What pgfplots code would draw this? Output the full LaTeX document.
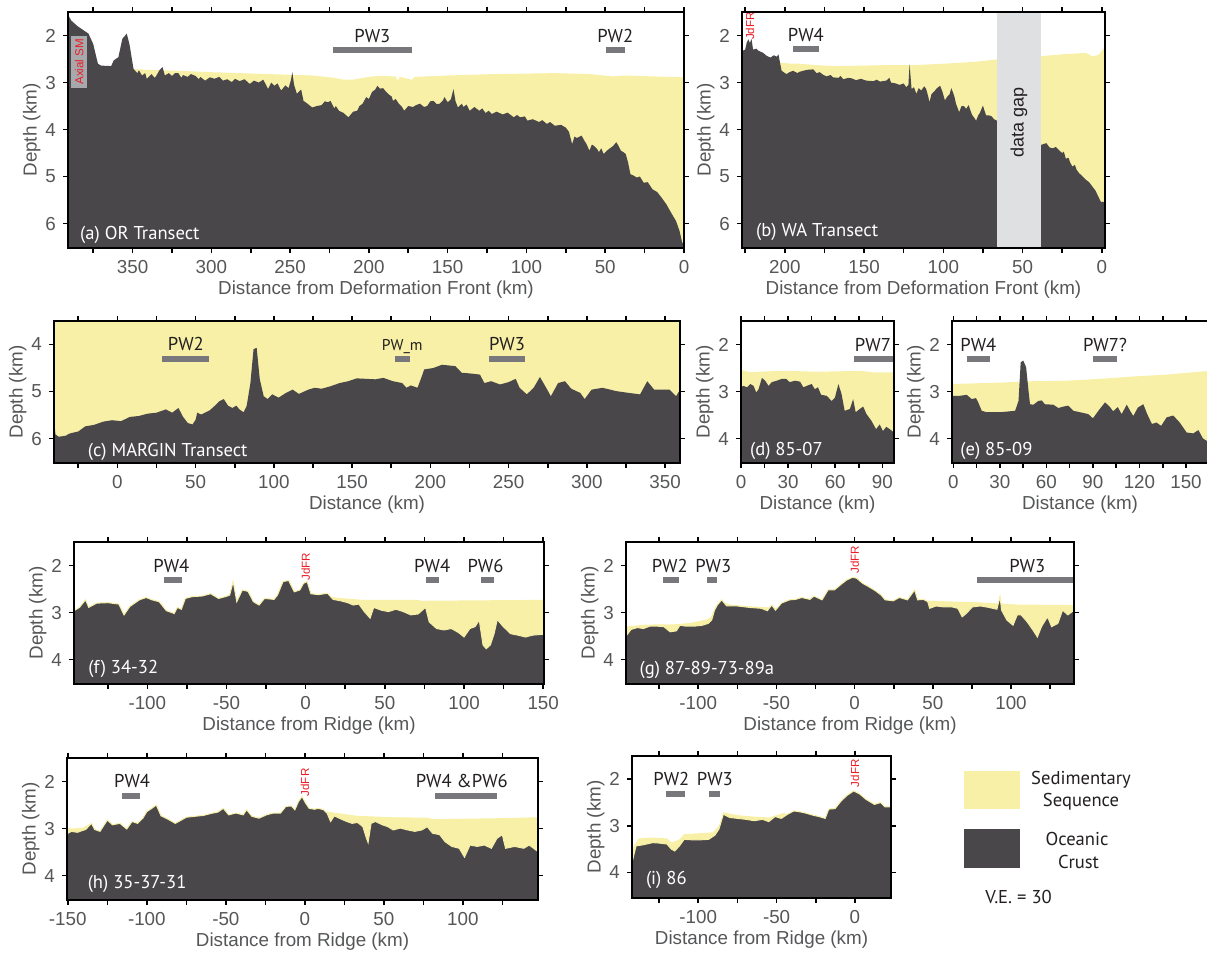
\documentclass[border=0pt]{standalone}
\usepackage{fontspec}
\setmainfont{Liberation Sans}
\newfontfamily\pwfont{PT Sans}
\usepackage{pgfplots}
\pgfplotsset{compat=1.18}
\definecolor{sed}{RGB}{247,240,166}
\definecolor{crust}{RGB}{74,71,75}
\definecolor{gapc}{RGB}{223,224,226}
\definecolor{pwgray}{RGB}{120,119,123}
\definecolor{tickgray}{RGB}{85,86,88}
\definecolor{lblred}{RGB}{237,28,36}
\definecolor{txtdark}{RGB}{35,31,32}
\definecolor{smgray}{RGB}{167,169,172}
\pgfplotsset{
  panel/.style={
    scale only axis, anchor=north west, y dir=reverse,
    axis on top,
    axis line style={line width=0.8pt, black},
    tick align=outside, major tick length=2.6pt, minor tick length=2.6pt,
    every tick/.style={black, line width=0.8pt},
    every minor tick/.style={black, line width=0.8pt},
    xtick pos=both, ytick pos=both,
    tick label style={font=\fontsize{9.4}{11}\selectfont, text=tickgray},
    /pgf/number format/assume math mode=true,
    label style={font=\fontsize{9.4}{11}\selectfont, text=tickgray},
    ylabel={Depth (km)},
    ylabel shift=-4.5pt,
    xlabel shift=-3pt,
    ytick={1,2,...,6},
  },
  sedf/.style={fill=sed, draw=none},
  crustf/.style={fill=crust, draw=none},
  crusto/.style={fill=crust, draw=sed, line width=0.5pt},
  pwbar/.style={draw=pwgray, line width=3pt},
}
\tikzset{
  pwl/.style={font=\pwfont\fontsize{9.3}{10}\selectfont, text=txtdark, anchor=base, inner sep=0pt},
  pwls/.style={font=\pwfont\fontsize{7.8}{9}\selectfont, text=txtdark, anchor=base, inner sep=0pt},
  plab/.style={font=\pwfont\fontsize{9.3}{10}\selectfont, text=white, anchor=base west, inner sep=0pt},
  jdfr/.style={font=\fontsize{5.8}{6}\selectfont, text=lblred, rotate=90, inner sep=0pt},
}
\begin{document}
\begin{tikzpicture}
\useasboundingbox (0,0) rectangle (603.5pt,-477.5pt);

% ---------------- (a) OR Transect ----------------
\begin{axis}[panel, at={(34pt,-6pt)}, width=308pt, height=118pt,
  xmin=0, xmax=391, x dir=reverse, ymin=1.5, ymax=6.52,
  xtick={0,50,...,350}, minor xtick={25,75,...,375},
  xlabel={Distance from Deformation Front (km)}]
\addplot[sedf] coordinates {(350,7)(350,2.71)(340,2.73)(321,2.75)(300,2.78)(264,2.82)(236,2.85)(222,2.9)(216,2.94)(210,2.94)(207,2.92)(200,2.88)(194,2.86)(183,2.87)(181.6,2.97)(180.5,2.88)(178.7,2.89)(174,2.93)(173,2.95)(171,2.88)(150,2.85)(120,2.82)(82,2.80)(60,2.82)(51,2.85)(45,2.87)(37,2.85)(20,2.87)(0,2.89)(0,7)} --cycle;
\addplot[crustf] coordinates {(391,7)(391,1.55)(389,1.68)(385,1.8)(378,1.96)(375,2.18)(372,2.6)(370,2.64)(363.6,2.65)(362,2.53)(359,2.46)(356.5,2.07)(353.7,1.96)(352,2.18)(349.4,2.71)(347,2.8)(346,2.74)(344,2.85)(342,2.8)(341,2.92)(338,2.82)(336,2.9)(335,2.86)(333,2.74)(331,2.67)(329.5,2.85)(327,2.8)(325,2.86)(323,2.8)(321,2.80)(319,2.9)(318,2.84)(315,2.88)(313,2.82)(310,2.86)(308,2.93)(307,2.88)(304,2.96)(301,2.89)(298,2.92)(295,2.88)(292.6,2.96)(290,2.93)(287,2.99)(285,2.92)(282,2.97)(279,2.93)(275.6,3.03)(273,2.96)(270,3.0)(267,2.94)(264,3.14)(262,3.0)(260,3.07)(258,3.02)(255.7,3.17)(253,3.06)(251,3.12)(249.5,2.95)(248.6,2.78)(247.5,3.05)(245.7,3.24)(243,3.15)(241.5,3.39)(239,3.45)(236,3.53)(233,3.5)(230,3.48)(228,3.4)(226,3.42)(224.4,3.39)(222,3.55)(221,3.5)(219,3.6)(216,3.65)(213,3.74)(211,3.66)(210,3.62)(207.4,3.6)(206,3.5)(204,3.45)(201.7,3.31)(200,3.35)(198,3.2)(196,3.15)(194.6,3.07)(193,3.13)(191,3.12)(189,3.2)(187.5,3.25)(185.5,3.3)(184.7,3.39)(183,3.35)(181,3.45)(179,3.52)(177.6,3.6)(175,3.5)(172,3.52)(170,3.48)(167.6,3.45)(165,3.52)(163,3.5)(161,3.4)(159,3.39)(157,3.46)(155,3.45)(153,3.38)(152,3.31)(150,3.42)(148,3.36)(146.3,3.14)(145,3.4)(143.5,3.53)(141,3.45)(140,3.52)(138,3.47)(136,3.6)(133,3.52)(130,3.6)(128,3.55)(126,3.65)(124,3.6)(122,3.67)(119,3.62)(115,3.68)(112,3.64)(108,3.74)(106,3.69)(104,3.74)(101,3.72)(99.4,3.81)(96,3.78)(92,3.84)(90,3.8)(87,3.88)(85,3.84)(82,3.92)(78,3.9)(75,3.96)(73,4.05)(71,4.31)(69.5,4.15)(68,4.18)(65,4.13)(63,4.25)(62,4.3)(60,4.45)(58.5,4.32)(57,4.35)(55,4.42)(54,4.48)(52.5,4.4)(51,4.52)(49,4.45)(47,4.4)(45,4.35)(43,4.27)(41.5,4.35)(40,4.45)(38.5,4.48)(37,4.52)(35.5,4.7)(34,4.95)(32,4.98)(30,5.02)(28,5.0)(25.6,5.13)(23,5.12)(20,5.27)(17,5.33)(14.2,5.45)(11,5.6)(8.5,5.75)(5,5.95)(2.8,6.16)(1.3,6.38)(0,6.48)(0,7)} --cycle;
\addplot[fill=smgray, draw=none] coordinates {(389,2.0)(378.7,2.0)(378.7,3.12)(389,3.12)} --cycle;
\node[font=\fontsize{5.8}{6}\selectfont, text=lblred, rotate=90, inner sep=0pt] at (axis cs:383.8,2.56) {Axial SM};
\addplot[pwbar] coordinates {(223,2.31)(172.7,2.31)};
\addplot[pwbar] coordinates {(49.7,2.31)(37.5,2.31)};
\node[pwl] at (axis cs:197.8,2.15) {PW3};
\node[pwl] at (axis cs:43.6,2.15) {PW2};
\node[plab] at (axis cs:383.5,6.33) {(a) OR Transect};
\end{axis}

% ---------------- (b) WA Transect ----------------
\begin{axis}[panel, at={(371pt,-6pt)}, width=181.5pt, height=118pt,
  xmin=-2, xmax=227, x dir=reverse, ymin=1.5, ymax=6.52,
  xtick={0,50,...,200}, minor xtick={25,75,...,225},
  xlabel={Distance from Deformation Front (km)}]
\addplot[sedf] coordinates {(203,7)(203,2.58)(195,2.6)(190.6,2.6)(180,2.63)(169.6,2.65)(150,2.64)(136,2.63)(119,2.63)(100,2.6)(80,2.56)(66.7,2.51)(50,2.48)(38.4,2.44)(25,2.4)(10,2.37)(6,2.44)(3,2.42)(1.7,2.4)(-1.5,2.26)(-2,2.26)(-2,7)} --cycle;
\addplot[crustf] coordinates {(227,7)(227,2.33)(225,2.3)(224,2.15)(223,2.08)(222,2.16)(221,2.07)(220,2.3)(218,2.28)(216.8,2.32)(213.6,2.37)(211.5,2.43)(209,2.47)(207,2.42)(205,2.45)(204,2.4)(203,2.58)(202,2.75)(199,2.82)(197,2.78)(194.8,2.75)(192,2.8)(190.6,2.77)(186,2.73)(182,2.72)(180,2.8)(178,2.78)(176,2.83)(173.8,2.87)(171,2.84)(169.6,2.89)(166,2.9)(165,2.86)(163,2.93)(160,2.9)(158,2.91)(155,2.95)(152,2.92)(148.6,2.96)(144,2.97)(142,2.94)(140,2.98)(136,2.96)(134,2.9)(133,3.0)(130,3.02)(127.6,3.05)(125,3.02)(123.4,3.1)(122,3.05)(121.3,2.61)(120,3.14)(118.5,3.1)(117,3.24)(115.5,3.12)(114,3.17)(112,3.08)(110.8,3.14)(109.5,3.3)(108.7,3.42)(107.5,3.25)(106,3.2)(104,3.12)(102,3.07)(100.5,3.2)(99,3.38)(97.5,3.3)(96,3.25)(95,3.12)(94,3.2)(93,3.3)(92,3.45)(90,3.63)(88.5,3.5)(87,3.5)(85.6,3.56)(84,3.48)(82,3.68)(80.5,3.75)(79.3,3.81)(78,3.7)(77,3.65)(75,3.49)(74,3.6)(73,3.7)(71,3.7)(69.5,3.72)(68,3.78)(66.3,3.81)(60,3.9)(50,4.05)(40,4.3)(38.4,4.33)(37,4.31)(35,4.29)(33,4.38)(31,4.40)(29,4.37)(27,4.44)(25,4.5)(24,4.47)(22.7,4.62)(21,4.6)(20,4.7)(18.5,4.79)(17,4.75)(16,4.85)(14.3,4.93)(12,5.0)(10,5.07)(8,5.12)(6,5.21)(4,5.3)(2.7,5.39)(0.6,5.54)(-2,5.54)(-2,7)} --cycle;
\addplot[fill=gapc, draw=none] coordinates {(66,1.4)(38.4,1.4)(38.4,7)(66,7)} --cycle;
\node[font=\fontsize{9}{10}\selectfont, text=txtdark, rotate=90] at (axis cs:52.2,3.85) {data gap};
\node[jdfr] at (axis cs:222,1.8) {JdFR};
\addplot[pwbar] coordinates {(194.8,2.28)(178.6,2.28)};
\node[pwl] at (axis cs:186.7,2.12) {PW4};
\node[plab] at (axis cs:218.3,6.27) {(b) WA Transect};
\end{axis}

% ---------------- (c) MARGIN Transect ----------------
\begin{axis}[panel, at={(27pt,-160.5pt)}, width=313pt, height=71pt,
  xmin=-40.5, xmax=359.5, ymin=3.5, ymax=6.52,
  xtick={0,50,...,350}, minor xtick={-25,25,...,325},
  xlabel={Distance (km)}]
\addplot[sedf] coordinates {(-41,3.4)(360,3.4)(360,7)(-41,7)} --cycle;
\addplot[crustf] coordinates {(-40.5,7)(-40.5,5.56)(-39.6,5.91)(-37.6,5.96)(-35,5.95)(-33,5.94)(-31,5.9)(-29,5.88)(-25,5.85)(-20.5,5.74)(-15,5.71)(-9,5.64)(-3.4,5.61)(2.3,5.63)(8,5.54)(13.7,5.52)(19.4,5.47)(25,5.45)(31,5.38)(35,5.45)(39,5.35)(42,5.54)(45,5.67)(48,5.70)(50,5.6)(51,5.45)(53.6,5.49)(56,5.45)(59,5.4)(62,5.31)(65,5.21)(68,5.16)(70.7,5.3)(73.5,5.35)(76,5.30)(78,5.38)(80.6,5.44)(82.6,5.31)(85,4.82)(87,4.1)(89,4.07)(91,4.74)(93.5,5.1)(96,5.16)(99,5.06)(103,5.13)(107.7,5.03)(112,4.96)(116,5.05)(122,4.96)(126,4.92)(130.5,4.94)(136,4.89)(142,4.82)(147.6,4.78)(153,4.72)(159,4.73)(164.7,4.74)(170,4.71)(176,4.78)(182,4.82)(184.7,4.92)(187.5,4.87)(191.8,4.92)(194.6,4.67)(196,4.53)(201.8,4.5)(207.5,4.43)(213,4.45)(216,4.46)(220,4.6)(227,4.62)(231.7,4.64)(234.5,4.82)(238.8,4.78)(244.5,4.85)(250,4.8)(254.5,4.73)(257,4.92)(261.6,5.06)(266,4.92)(270,4.69)(274,4.92)(277,5.10)(281.6,4.82)(286,4.78)(290,4.94)(295.8,5.03)(298.6,5.16)(303,4.96)(310,4.92)(318.6,4.99)(327,5.03)(334,5.06)(338.6,4.78)(343,4.96)(347,4.96)(352.8,4.96)(357,5.1)(359.5,4.96)(359.5,7)} --cycle;
\addplot[pwbar] coordinates {(28.8,4.3)(58.7,4.3)};
\addplot[pwbar] coordinates {(177.3,4.3)(186.7,4.3)};
\addplot[pwbar] coordinates {(237.7,4.3)(260.5,4.3)};
\node[pwl] at (axis cs:43.75,4.13) {PW2};
\node[pwls] at (axis cs:182,4.12) {PW\_m};
\node[pwl] at (axis cs:249,4.13) {PW3};
\node[plab] at (axis cs:-19.1,6.39) {(c) MARGIN Transect};
\end{axis}

% ---------------- (d) 85-07 ----------------
\begin{axis}[panel, at={(370.5pt,-160.5pt)}, width=76.5pt, height=71pt,
  xmin=0, xmax=97.4, ymin=1.5, ymax=4.52,
  xtick={0,30,60,90}, minor xtick={15,45,75},
  xlabel={Distance (km)}]
\addplot[sedf] coordinates {(0,7)(0,2.54)(5.9,2.59)(16.5,2.57)(31,2.56)(48,2.58)(75.6,2.56)(84,2.59)(97.4,2.59)(97.4,7)} --cycle;
\addplot[crustf] coordinates {(0,7)(0,2.90)(1.7,2.88)(3.8,2.91)(5.9,2.84)(8,2.88)(9.7,3.02)(11.2,2.95)(13.3,2.71)(15.4,2.77)(17.5,2.88)(19.6,2.8)(22.8,2.77)(26,2.73)(28.7,2.73)(31,2.8)(34.4,2.77)(37.6,2.79)(39.7,2.91)(41.8,2.88)(45,2.84)(47,2.95)(49,2.91)(51,3.07)(54.5,3.09)(57.7,3.20)(59.8,3.13)(62,2.84)(64,3.05)(66,3.41)(69.3,3.37)(71.4,3.16)(73,3.44)(75.6,3.37)(77.8,3.32)(79.9,3.48)(83,3.62)(86,3.80)(88.3,3.7)(90.4,3.84)(92.5,3.75)(94.7,3.80)(97.4,3.87)(97.4,7)} --cycle;
\addplot[pwbar] coordinates {(71.8,2.31)(96.8,2.31)};
\node[pwl] at (axis cs:84,2.14) {PW7};
\node[plab] at (axis cs:5.5,4.35) {(d) 85-07};
\end{axis}

% ---------------- (e) 85-09 ----------------
\begin{axis}[panel, at={(476pt,-160.5pt)}, width=128pt, height=71pt,
  xmin=-0.9, xmax=164.2, ymin=1.5, ymax=4.52,
  xtick={0,30,...,150}, minor xtick={15,45,...,165},
  xlabel={Distance (km)}]
\addplot[sedf] coordinates {(-1,7)(-1,2.84)(30,2.81)(51.6,2.78)(73,2.77)(94.6,2.73)(116,2.68)(137.5,2.64)(165,2.56)(165,7)} --cycle;
\addplot[crustf] coordinates {(-1,7)(-1,3.09)(4.3,3.09)(8.6,3.07)(11.8,3.16)(14.6,3.14)(16,3.23)(18.3,3.41)(21.5,3.44)(30,3.44)(36.5,3.42)(39.8,3.41)(42,3.2)(43.4,2.38)(45,2.34)(46.9,2.48)(48.4,2.97)(49.4,3.27)(51.6,3.28)(54.8,3.20)(57,3.19)(59,3.27)(64.5,3.28)(67.7,3.35)(71,3.32)(74,3.30)(77.4,3.41)(81.7,3.44)(87,3.48)(90,3.57)(93.5,3.41)(97.8,3.23)(101,3.33)(103,3.42)(106,3.33)(108.5,3.48)(111.8,3.28)(114,3.41)(116,3.52)(119,3.34)(122.5,3.27)(125,3.48)(128,3.69)(131,3.66)(134,3.73)(137.5,3.55)(141.8,3.51)(146,3.66)(150.4,3.87)(154.7,3.89)(158,3.82)(161,4.0)(163.5,4.05)(165,4.07)(165,7)} --cycle;
\addplot[pwbar] coordinates {(8.6,2.31)(23.6,2.31)};
\addplot[pwbar] coordinates {(90.3,2.31)(105.3,2.31)};
\node[pwl] at (axis cs:16.1,2.14) {PW4};
\node[pwl] at (axis cs:97.8,2.14) {PW7?};
\node[plab] at (axis cs:4.3,4.35) {(e) 85-09};
\end{axis}

% ---------------- (f) 34-32 ----------------
\begin{axis}[panel, at={(37pt,-271pt)}, width=235pt, height=71pt,
  xmin=-146.3, xmax=150.5, ymin=1.5, ymax=4.52,
  xtick={-100,-50,...,150}, minor xtick={-125,-75,...,125},
  xlabel={Distance from Ridge (km)}]
\addplot[sedf] coordinates {(13.8,7)(13.8,2.66)(25,2.7)(36,2.73)(60,2.73)(71,2.73)(73,2.75)(110.7,2.74)(150.5,2.73)(150.5,7)} --cycle;
\addplot[crusto] coordinates {(-146.3,7)(-146.3,2.96)(-142.8,2.89)(-139,2.73)(-137,2.89)(-132,2.8)(-125,2.79)(-118,2.82)(-114.7,3.05)(-111,2.87)(-105,2.73)(-100.7,2.68)(-97,2.73)(-92.5,2.77)(-88,2.96)(-83,3.02)(-81,2.89)(-78.5,2.93)(-76,2.70)(-71.5,2.66)(-65.6,2.65)(-60,2.60)(-55,2.70)(-50.5,2.66)(-48,2.63)(-45.8,2.34)(-43.5,2.77)(-40,2.52)(-36.4,2.55)(-33,2.77)(-29.4,2.84)(-26,2.7)(-20,2.72)(-17.8,2.63)(-14.3,2.34)(-10.7,2.32)(-7.2,2.56)(-3.7,2.52)(-1.4,2.38)(0.9,2.34)(3.3,2.60)(8,2.62)(13.8,2.59)(17.3,2.72)(22,2.75)(26.6,2.79)(30,2.84)(33.6,2.82)(37,2.98)(40.7,3.12)(43,2.89)(47.7,2.95)(52.3,2.98)(57,2.93)(61.7,2.98)(66.4,3.05)(71,3.03)(75.7,2.89)(78,3.20)(82.7,3.34)(87.4,3.37)(92,3.34)(96.7,3.43)(100,3.52)(103.7,3.34)(107,3.3)(109.6,3.16)(112,3.69)(114,3.77)(116.6,3.69)(119,3.45)(121,3.15)(124.8,3.3)(129.4,3.45)(134,3.48)(138.8,3.52)(143.5,3.48)(150.5,3.46)(150.5,7)} --cycle;
\addplot[pwbar] coordinates {(-89.5,2.31)(-77.8,2.31)};
\addplot[pwbar] coordinates {(75.7,2.31)(83.9,2.31)};
\addplot[pwbar] coordinates {(110.7,2.31)(119,2.31)};
\node[pwl] at (axis cs:-84.8,2.14) {PW4};
\node[pwl] at (axis cs:79.9,2.14) {PW4};
\node[pwl] at (axis cs:113.6,2.14) {PW6};
\node[jdfr] at (axis cs:0,2.03) {JdFR};
\node[plab] at (axis cs:-137.4,4.30) {(f) 34-32};
\end{axis}

% ---------------- (g) 87-89-73-89a ----------------
\begin{axis}[panel, at={(313pt,-271pt)}, width=224pt, height=71pt,
  xmin=-146.2, xmax=140.3, ymin=1.5, ymax=4.52,
  xtick={-100,-50,...,100}, minor xtick={-125,-75,...,125},
  xlabel={Distance from Ridge (km)}]
\addplot[sedf] coordinates {(-146.2,7)(-146.2,3.30)(-135,3.26)(-125,3.25)(-115,3.25)(-105,3.22)(-95,3.15)(-92,3.1)(-89,2.88)(-86,2.75)(-80,2.83)(-70,2.86)(-60,2.88)(-50,2.9)(-40,3.0)(-20,3.2)(30,3.2)(44,2.74)(48,2.75)(78,2.78)(104,2.83)(140.3,2.84)(140.3,7)} --cycle;
\addplot[crusto] coordinates {(-146.2,7)(-146.2,3.50)(-143,3.36)(-139,3.32)(-135,3.34)(-131,3.29)(-126,3.29)(-122,3.3)(-118,3.41)(-114,3.39)(-111.7,3.27)(-108,3.29)(-102.6,3.29)(-97.4,3.27)(-93.5,3.23)(-91.4,3.16)(-89.6,2.95)(-87.8,2.84)(-85,2.73)(-81.8,2.86)(-75,2.86)(-67.5,2.89)(-59.7,2.91)(-55.8,2.96)(-53,2.84)(-50.6,2.95)(-46.8,2.80)(-41.6,2.73)(-37.7,2.72)(-33.8,2.68)(-28.6,2.72)(-26,2.65)(-20.8,2.73)(-17,2.52)(-13,2.52)(-9,2.41)(-5.2,2.31)(-1.3,2.25)(1.3,2.27)(5.2,2.38)(9,2.45)(13,2.53)(17,2.63)(19.5,2.73)(24.7,2.75)(28.6,2.68)(33.8,2.73)(38.4,2.52)(40.3,2.73)(44,2.72)(46.8,2.77)(48,2.91)(52,2.86)(57,2.88)(62.3,2.88)(66,2.91)(68.8,3.09)(71.4,3.02)(75.3,2.88)(80.5,2.86)(85.7,2.89)(91,2.93)(93,2.66)(94,2.95)(97.4,3.16)(101.3,3.27)(104,3.05)(106.5,3.05)(110.4,3.2)(114,3.37)(116.9,3.52)(119.5,3.30)(123.4,3.09)(126,3.3)(130,3.23)(133,2.95)(136.4,3.05)(140.3,2.95)(140.3,7)} --cycle;
\addplot[pwbar] coordinates {(-122.6,2.31)(-112.2,2.31)};
\addplot[pwbar] coordinates {(-94.5,2.31)(-88.3,2.31)};
\addplot[pwbar] coordinates {(78,2.31)(139.5,2.31)};
\node[pwl] at (axis cs:-118.2,2.14) {PW2};
\node[pwl] at (axis cs:-90.4,2.14) {PW3};
\node[pwl] at (axis cs:110.4,2.14) {PW3};
\node[jdfr] at (axis cs:0,1.88) {JdFR};
\node[plab] at (axis cs:-137.7,4.31) {(g) 87-89-73-89a};
\end{axis}

% ---------------- (h) 35-37-31 ----------------
\begin{axis}[panel, at={(33.5pt,-379pt)}, width=235.5pt, height=71pt,
  xmin=-150.5, xmax=147.5, ymin=1.5, ymax=4.52,
  xtick={-150,-100,...,100}, minor xtick={-125,-75,...,125},
  xlabel={Distance from Ridge (km)}]
\addplot[sedf] coordinates {(14,7)(14,2.64)(33.3,2.73)(56,2.76)(77.4,2.77)(80.8,2.80)(123.8,2.78)(147.5,2.76)(147.5,7)} --cycle;
\addplot[sedf] coordinates {(-150.5,7)(-150.5,2.99)(-147,3.0)(-140,2.98)(-136,2.9)(-133,3.1)(-120,3.2)(-100,3.2)(-100,7)} --cycle;
\addplot[crusto] coordinates {(-150.5,7)(-150.5,3.11)(-147.7,3.06)(-144,3.08)(-138.7,3.02)(-135,2.89)(-133,3.02)(-129.6,3.06)(-125,2.82)(-121.7,2.92)(-117,2.89)(-112.7,3.01)(-109.3,2.85)(-105.9,2.89)(-102.5,2.78)(-100,2.64)(-96.8,2.57)(-94,2.50)(-91,2.73)(-86.7,2.8)(-82,2.89)(-78.7,2.83)(-75,2.76)(-69.7,2.74)(-64,2.72)(-59.5,2.68)(-55,2.65)(-51.6,2.57)(-48.2,2.71)(-43.7,2.67)(-39,2.71)(-36.9,2.60)(-33.5,2.74)(-29,2.78)(-24.4,2.71)(-20,2.67)(-15.4,2.67)(-12,2.53)(-8.6,2.52)(-6.3,2.6)(-4.1,2.43)(-1.8,2.32)(0.5,2.46)(2.7,2.57)(6.1,2.59)(8.4,2.57)(11.8,2.6)(14,2.67)(16.3,2.85)(18.6,2.73)(23,2.8)(26.5,2.85)(29.9,2.89)(33.3,2.87)(36.7,2.96)(38.9,3.2)(40,3.30)(41.9,2.89)(44.6,2.85)(49,2.92)(52.5,2.96)(55.9,3.03)(60.4,2.99)(65,3.03)(69.5,3.06)(74,3.03)(77.4,2.96)(80.8,3.1)(85.3,3.13)(88.7,3.28)(93,3.38)(97.7,3.42)(101,3.61)(104.5,3.35)(109,3.38)(113.6,3.35)(118,3.42)(121.5,3.21)(124.9,3.13)(127,3.42)(132.8,3.38)(138.5,3.42)(141.9,3.35)(147.5,3.49)(147.5,7)} --cycle;
\addplot[pwbar] coordinates {(-115.4,2.3)(-104.3,2.3)};
\addplot[pwbar] coordinates {(82.4,2.3)(121.5,2.3)};
\node[pwl] at (axis cs:-109.3,2.13) {PW4};
\node[pwl] at (axis cs:99.3,2.13) {PW4 \&PW6};
\node[jdfr] at (axis cs:0,2.02) {JdFR};
\node[plab] at (axis cs:-137.6,4.27) {(h) 35-37-31};
\end{axis}

% ---------------- (i) 86 ----------------
\begin{axis}[panel, at={(316pt,-378pt)}, width=129.5pt, height=71pt,
  xmin=-142.3, xmax=23, ymin=1.5, ymax=4.55,
  xtick={-100,-50,0}, minor xtick={-125,-75,-25,25},
  xlabel={Distance from Ridge (km)}]
\addplot[sedf] coordinates {(-142.3,7)(-142.3,3.54)(-141,3.43)(-138,3.27)(-130,3.25)(-120,3.27)(-117,3.36)(-112,3.29)(-109,3.18)(-90.7,3.14)(-86.8,3.0)(-84,2.71)(-75,2.77)(-65,2.8)(-55,2.82)(-45,2.72)(-40,2.9)(-30,3.1)(23,3.1)(23,7)} --cycle;
\addplot[crusto] coordinates {(-142.3,7)(-142.3,3.79)(-141,3.61)(-139.7,3.43)(-135.7,3.41)(-133,3.39)(-129,3.36)(-125,3.37)(-120,3.39)(-117.2,3.5)(-115,3.54)(-112,3.43)(-109,3.29)(-104,3.3)(-98.7,3.3)(-93.4,3.29)(-89.4,3.2)(-86.8,3.07)(-84,2.75)(-80,2.82)(-74.9,2.84)(-69.6,2.86)(-64.3,2.89)(-59,2.86)(-55,2.91)(-51,2.8)(-47,2.84)(-43,2.75)(-39,2.68)(-35,2.7)(-31,2.73)(-27,2.77)(-23,2.8)(-19,2.84)(-16.7,2.64)(-12.7,2.63)(-8.7,2.46)(-4.8,2.34)(-0.8,2.25)(3.2,2.32)(7,2.43)(12.4,2.54)(16.4,2.5)(19,2.59)(23,2.59)(23,7)} --cycle;
\addplot[pwbar] coordinates {(-120.4,2.31)(-108.7,2.31)};
\addplot[pwbar] coordinates {(-92.9,2.31)(-86,2.31)};
\node[pwl] at (axis cs:-117.2,2.14) {PW2};
\node[pwl] at (axis cs:-89.4,2.14) {PW3};
\node[jdfr] at (axis cs:0,1.87) {JdFR};
\node[plab] at (axis cs:-133.6,4.27) {(i) 86};
\end{axis}

% ---------------- legend ----------------
\fill[sed] (482pt,-385.5pt) rectangle (509.75pt,-404.5pt);
\fill[crust] (482pt,-414.5pt) rectangle (509.75pt,-434pt);
\begin{scope}[every node/.style={font=\pwfont\fontsize{9.3}{10}\selectfont, text=txtdark, inner sep=0pt}]
\node at (540.5pt,-390pt) {Sedimentary};
\node at (540.5pt,-401pt) {Sequence};
\node at (538.5pt,-419.5pt) {Oceanic};
\node at (539.3pt,-431pt) {Crust};
\node at (509.3pt,-448.5pt) {V.E. = 30};
\end{scope}
\end{tikzpicture}
\end{document}
